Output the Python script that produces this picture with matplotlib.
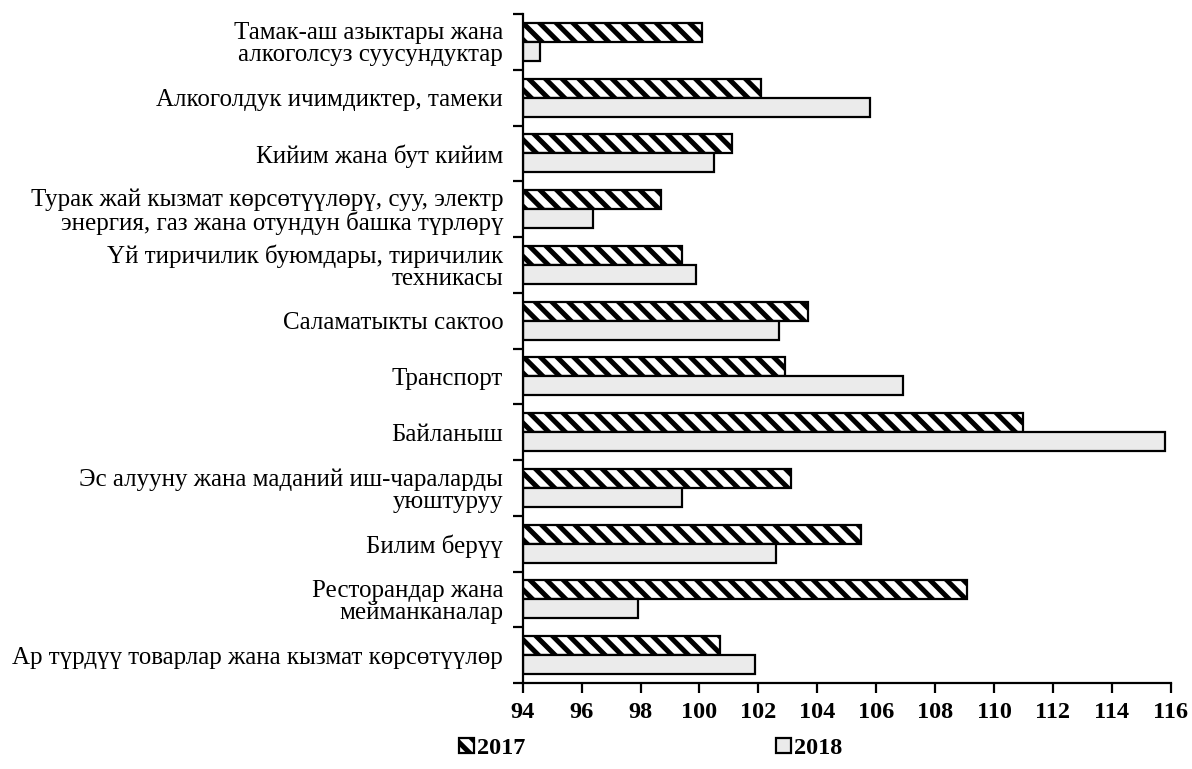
import matplotlib
matplotlib.use("Agg")
import matplotlib.pyplot as plt
import numpy as np

plt.rcParams["font.family"] = ["Liberation Serif", "DejaVu Serif"]
plt.rcParams["hatch.linewidth"] = 3.6

categories = [
    "Тамак-аш азыктары жана\nалкоголсуз суусундуктар",
    "Алкоголдук ичимдиктер, тамеки",
    "Кийим жана бут кийим",
    "Турак жай кызмат көрсөтүүлөрү, суу, электр\nэнергия, газ жана отундун башка түрлөрү",
    "Үй тиричилик буюмдары, тиричилик\nтехникасы",
    "Саламатыкты сактоо",
    "Транспорт",
    "Байланыш",
    "Эс алууну жана маданий иш-чараларды\nуюштуруу",
    "Билим берүү",
    "Ресторандар жана\nмейманканалар",
    "Ар түрдүү товарлар жана кызмат көрсөтүүлөр",
]
values_2017 = [100.1, 102.1, 101.1, 98.7, 99.4, 103.7, 102.9, 111.0, 103.1, 105.5, 109.1, 100.7]
values_2018 = [94.6, 105.8, 100.5, 96.4, 99.9, 102.7, 106.9, 115.8, 99.4, 102.6, 97.9, 101.9]
base = 94
xticks = list(range(94, 117, 2))


def plot():
    fig = plt.figure(figsize=(11.92, 7.69), dpi=100)
    ax = fig.add_axes([0.4385, 0.1118, 0.5436, 0.87])

    y = np.arange(len(categories))
    h = 0.34
    v17 = np.array(values_2017) - base
    v18 = np.array(values_2018) - base
    ax.barh(y - h / 2, v17, height=h, left=base, color="white",
            edgecolor="black", hatch="\\\\", linewidth=1.6, label="2017")
    ax.barh(y + h / 2, v18, height=h, left=base, color="#ebebeb",
            edgecolor="black", linewidth=1.6, label="2018")

    ax.set_xlim(94, 116)
    ax.set_ylim(len(categories) - 0.5, -0.5)
    ax.set_xticks(xticks)
    ax.set_xticklabels([str(t) for t in xticks], fontsize=17.5, fontweight="bold")

    ax.set_yticks(np.arange(len(categories) + 1) - 0.5)
    ax.set_yticklabels([])
    ax.set_yticks(y, minor=True)
    ax.set_yticklabels(categories, minor=True, fontsize=18, linespacing=1.0,
                       ha="right", multialignment="right")
    ax.tick_params(axis="y", which="minor", length=0, pad=14)
    ax.tick_params(axis="y", which="major", length=7, width=1.6, direction="out")
    ax.tick_params(axis="x", length=7, width=1.6, direction="out", pad=7)

    for s in ["top", "right"]:
        ax.spines[s].set_visible(False)
    for s in ["left", "bottom"]:
        ax.spines[s].set_linewidth(1.6)

    fig.legend(loc="center", bbox_to_anchor=(0.546, 0.027), ncol=2,
               frameon=False, handlelength=0.6, handleheight=0.6,
               handletextpad=0.15, columnspacing=10.3,
               prop={"weight": "bold", "size": 17.5})

    fig.savefig("out.png", dpi=100)
    return fig, ax


if __name__ == '__main__':
    plot()
